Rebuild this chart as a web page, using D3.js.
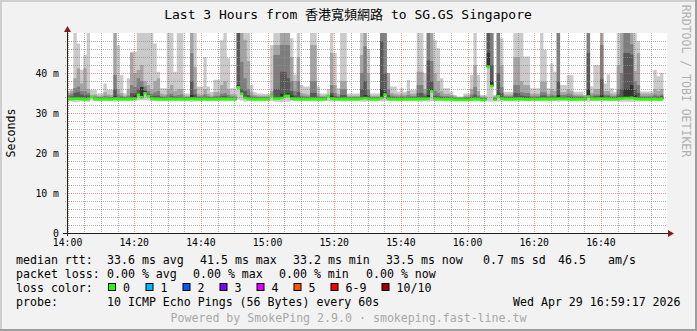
<!DOCTYPE html>
<html>
<head>
<meta charset="utf-8">
<script src="https://cdn.jsdelivr.net/npm/d3@7"></script>
<style>
  body { margin: 0; background: #f2f2f2; }
  svg { display: block; font-family: "DejaVu Sans Mono", monospace; }
</style>
</head>
<body>
<div id="chart"></div>
<script>
var svgWidth = 697;
var svgHeight = 331;
var plot = { left: 67, top: 33, width: 600, height: 200 };

// one sample per minute, 10 pings each (values in ms)
var firstSample = new Date(2026, 3, 29, 13, 59, 45);
var stepSeconds = 60;
var axisStart = new Date(2026, 3, 29, 13, 59, 50);
var axisEnd = new Date(2026, 3, 29, 16, 59, 50);

var pingMax = [35.5,36,55,47.4,40.8,44.5,55,35.8,35.8,34.9,
  34.9,37.4,35.8,35.8,55,47,39.5,34.9,38.7,45.3,
  45.3,55,55,55,55,55,47.4,40.3,36.2,36.2,
  55,55,40.3,55,55,34.9,34.9,55,55,36.6,
  36.6,44,36.6,35.3,38.3,38.3,48.2,55,43.7,36.2,
  36.2,55,55,55,55,37,35.2,34.9,34.9,34.8,
  34.8,47,55,55,55,55,55,48.7,39.6,55,
  37,36.6,36.6,55,55,36.6,34.9,34.9,36,55,
  45,36.2,55,55,34.9,34.9,34.9,34.9,55,55,
  46,34.9,34.9,34.9,55,55,36.6,36.6,36.6,35.3,
  36.2,35.3,38.25,35.75,35.75,55,55,39.9,55,55,
  48.2,46.2,38.7,36.2,36.2,35.3,34.5,34.1,34.1,34.9,
  34.9,39.5,55,39.5,34.5,34.5,55,55,34.5,55,
  48.6,35.3,35.3,35.3,55,55,55,44.1,44.1,36.2,
  36.2,36.2,55,45.75,36.2,42.4,40.3,55,37,37,
  39.5,39.5,35.3,35.3,35.3,34.5,55,36.6,42,42,
  55,37.4,39.6,36.2,35.3,55,55,55,55,55,
  55,48,35.4,35.4,35.4,35.4,40.8,39.2,40];

var ping9 = [35,35.5,38.7,41.2,37.4,41.2,36,34.5,34.6,34.3,
  34.3,35.2,34.6,34.5,55,36,35,34.3,36,45,
  40,40.75,42,38,37,36,38,38.7,34.8,34.6,
  36,37,35.5,36,36,34.3,34.3,55,41.5,34.8,
  34.6,36,34.8,34.4,35.2,35.2,37,38,36,34.7,
  34.6,55,55,48.3,43,35.2,34.5,34.4,34.3,34.3,
  34.3,35.5,47,47,55,55,55,44,38,44,
  35,34.8,34.6,47,47,34.8,34.3,34.3,34.6,45,
  37,34.8,38,38,34.3,34.3,34.3,34.3,44.5,55,
  40,34.3,34.3,34.3,55,55,40,35,34.8,34.6,
  34.8,34.6,35.5,34.8,34.8,40.3,40.3,36,55,55,
  40,38,35.5,34.8,34.8,34.5,34.2,34,34,34.3,
  34.3,36,42,35.5,34.2,34.2,55,55,34.2,55,
  42,34.6,34.6,34.6,44,44,38,37,37,34.8,
  34.8,34.8,37.8,37.8,34.8,36,35.5,55,35.2,35.2,
  36,35.5,34.6,34.6,34.6,34.3,55,35,36,36,
  55,35.5,35.5,34.8,34.6,42,55,55,55,55,
  40.5,45,34.8,34.8,34.8,34.8,36,35.5,36];

var ping8 = [34.5,34.8,36.2,36.6,35.5,35.5,35,34,34.1,34,
  34,34.3,34.1,34,39.5,34.6,34.3,34,34.4,37,
  36.5,38.7,38,36.6,35.5,34.8,35.2,35.5,34.2,34.1,
  34.6,34.8,34.3,34.5,34.6,34,34,45,36,34.2,
  34.1,34.6,34.2,34,34.3,34.3,34.8,35,34.5,34.1,
  34.1,55,42.8,38.7,36,34.4,34.1,34,34,34,
  34,34.6,44.5,44.5,47,47,47,38,35.5,38,
  34.3,34.2,34.1,38,38,34.2,34,34,34.2,37,
  35,34.2,36,36,34,34,34,34,40,46.7,
  36,34,34,34,55,55,36,34.4,34.2,34.1,
  34.2,34.1,34.5,34.2,34.2,37,37,34.8,55,43,
  35.5,35,34.4,34.2,34.2,34.1,33.9,33.8,33.8,34,
  34,34.6,36.5,34.4,33.9,33.9,55,50,33.9,55,
  36.5,34.2,34.2,34.2,37,37,35.2,35,35,34.2,
  34.2,34.2,35.2,35.2,34.2,34.6,34.4,55,34.5,34.5,
  34.8,34.6,34.2,34.2,34.2,34,55,34.4,34.6,34.6,
  47,34.6,34.6,34.2,34.2,36,40,55,55,47.2,
  38,37,34.2,34.2,34.2,34.2,34.6,34.4,34.6];

var ping7 = [34,34.2,35,35.2,34.6,34.5,34.4,33.8,33.8,33.8,
  33.8,33.9,33.8,33.8,36,34,33.9,33.8,33.9,35,
  35,36,36.5,35.6,34.8,34.2,34.3,34.4,33.9,33.8,
  34,34.2,33.9,34,34,33.8,33.8,38,34.6,33.9,
  33.8,34,33.9,33.8,33.9,33.9,34.2,34.3,34,33.8,
  33.8,55,36,35.5,34.5,33.9,33.8,33.8,33.8,33.8,
  33.8,34.1,36,36,40.3,40.3,38.7,35.5,34.4,35.2,
  33.9,33.8,33.8,35,35,33.9,33.8,33.8,33.9,35,
  34.2,33.9,34.5,34.5,33.8,33.8,33.8,33.8,36,38,
  34.5,33.8,33.8,33.8,48,40,34.5,33.9,33.9,33.8,
  33.9,33.8,34,33.9,33.9,35,35,34.2,43.1,38,
  34.4,34.2,34,33.9,33.9,33.8,33.7,33.6,33.6,33.7,
  33.7,34,34.6,33.9,33.7,33.7,55,42,33.7,40,
  35,33.9,33.9,33.9,35,35,34.4,34.2,34.2,33.9,
  33.9,33.9,34.4,34.4,33.9,34.1,34,38,34,34,
  34.2,34,33.9,33.9,33.9,33.8,45,34,34.2,34.2,
  38.5,34.1,34.1,33.9,33.9,34.6,36,45,45,44.6,
  36,35,33.9,33.9,33.9,33.9,34.1,34,34.2];

var ping6 = [33.7,33.7,34,34,33.8,33.8,33.8,33.6,33.6,33.6,
  33.6,33.7,33.6,33.6,34.2,33.7,33.6,33.6,33.7,33.8,
  34.5,34.6,36.5,35.5,34.4,33.8,33.8,33.8,33.7,33.6,
  33.7,33.7,33.6,33.7,33.7,33.6,33.6,34.5,33.8,33.6,
  33.6,33.7,33.6,33.6,33.6,33.6,33.7,33.8,33.7,33.6,
  33.6,37,35,34.2,33.8,33.6,33.6,33.6,33.6,33.6,
  33.6,34.3,34,34,34.8,34.5,35,34.4,33.8,33.8,
  33.6,33.6,33.6,33.8,33.8,33.6,33.6,33.6,34.3,34.4,
  33.8,33.6,33.8,33.8,33.6,33.6,33.6,33.6,34,34.5,
  33.8,33.6,33.6,33.6,36,35.2,33.8,33.6,33.6,33.6,
  33.6,33.6,33.7,33.6,33.6,33.8,33.8,33.7,34.5,36,
  33.8,33.7,33.6,33.6,33.6,33.6,33.5,33.5,33.5,33.5,
  33.5,33.6,33.8,33.6,33.5,33.5,45,38,33.5,34.8,
  34,33.6,33.6,33.6,33.8,33.8,33.7,33.6,33.6,33.6,
  33.6,33.6,33.7,33.7,33.6,33.7,33.7,34.5,33.7,33.7,
  33.7,33.6,33.6,33.6,33.6,33.6,36,33.7,33.7,33.7,
  34.5,33.7,33.7,33.6,33.6,33.8,34,36,36,37,
  34.5,34,33.6,33.6,33.6,33.6,33.7,33.6,33.7];

var medianRtt = [33.5,33.5,33.6,33.6,33.5,33.4,33.5,34.1,33.5,33.4,
  33.4,33.5,33.4,33.4,33.6,33.5,33.4,33.4,33.5,33.5,
  33.6,34.5,33.9,34.9,34.2,33.6,33.5,33.5,33.4,33.4,
  33.5,33.5,33.4,33.5,33.5,33.4,33.4,33.6,33.5,33.4,
  33.4,33.5,33.4,33.4,33.4,33.4,33.5,33.5,33.5,33.4,
  33.4,36.4,34.8,33.8,33.5,33.4,33.4,33.4,33.4,33.4,
  33.4,34.2,33.6,33.6,33.7,34.2,34.3,33.6,33.5,33.5,
  33.4,33.4,33.4,33.5,33.5,33.4,33.4,33.4,34.2,33.6,
  33.5,33.4,33.5,33.5,33.4,33.4,33.4,33.4,33.6,33.7,
  33.5,33.4,33.4,33.4,33.7,34.6,33.5,33.4,33.4,33.4,
  33.4,33.4,33.5,33.4,33.4,33.5,33.5,33.5,33.6,35.4,
  33.5,33.5,33.4,33.4,33.4,33.4,33.3,33.3,33.3,33.3,
  33.3,33.4,33.5,33.4,33.3,33.3,41.5,36.7,33.3,34.2,
  33.6,33.4,33.4,33.4,33.5,33.5,33.5,33.4,33.4,33.4,
  33.4,33.4,33.5,33.5,33.4,33.5,33.5,33.6,33.5,33.5,
  33.5,33.4,33.4,33.4,33.4,33.4,34.1,33.5,33.5,33.5,
  33.6,33.5,33.5,33.4,33.4,33.5,33.6,33.7,33.7,33.8,
  33.6,33.5,33.4,33.4,33.4,33.4,33.5,33.4,33.5];

var pingMin = [33,32.9,32.7,32.8,33,33,32.8,33.1,33,33.1,
  33.1,33,33.1,33.1,32.8,33,33.1,33.1,33,33,
  33,33.1,33.2,33.2,33.1,33,33,32.9,33.1,33.1,
  33,32.9,33.1,33,32.9,33.1,33.1,32.8,32.9,33.1,
  33.1,33,33.1,33.1,33.1,33.1,33,32.9,33,33.1,
  33.1,33.3,33.1,32.9,33,33.1,33.1,33.1,33.1,33.1,
  33.1,33,32.8,32.8,32.7,32.8,32.8,33,33,33,
  33.1,33.1,33.1,32.9,32.9,33.1,33.1,33.1,33,32.9,
  33,33.1,32.9,32.9,33.1,33.1,33.1,33.1,32.9,32.8,
  33,33.1,33.1,33.1,32.9,33,33,33.1,33.1,33.1,
  33.1,33.1,33,33.1,33.1,32.9,32.9,33,32.8,33,
  33,33,33.1,33.1,33.1,33.1,33.1,33.1,33.1,33.1,
  33.1,33,32.9,33,33.1,33.1,32.9,32.9,33.1,32.9,
  32.9,33.1,33.1,33.1,32.9,32.9,33,33,33,33.1,
  33.1,33.1,32.9,32.9,33.1,33,33,32.8,33.1,33.1,
  33,33,33.1,33.1,33.1,33.1,32.9,33,33,33,
  32.8,33,33,33.1,33.1,32.9,32.8,32.8,32.8,32.8,
  32.9,32.9,33.1,33.1,33.1,33.1,33,33,33];

var yTicks = [0, 10, 20, 30, 40];
var yTickLabels = ["0", "10 m", "20 m", "30 m", "40 m"];
var lossLabels = ["0", "1", "2", "3", "4", "5", "6-9", "10/10"];
var lossColors = ["#26ff00", "#00b8ff", "#0059ff", "#7e00ff", "#dd00ff", "#ff5500", "#ff0000", "#a00000"];
var smokeColors = ["#cacaca", "#a4a4a4", "#7e7e7e", "#585858", "#323232"];

var statsRow1 = [["median rtt:", 16], ["33.6 ms avg", 107], ["41.5 ms max", 200], ["33.2 ms min", 293],
  ["33.5 ms now", 386], ["0.7 ms sd", 483], ["46.5", 558], ["am/s", 608]];
var statsRow2 = [["packet loss:", 16], ["0.00 % avg", 107], ["0.00 % max", 193], ["0.00 % min", 279], ["0.00 % now", 366]];
var lossBoxX = [108, 145.5, 182.5, 219.5, 256.5, 293.5, 330.5, 381.5];

// build rows (one extra closing row so the last step has a width)
var rows = pingMax.map(function(v, i) {
  return {
    t: new Date(firstSample.getTime() + i * stepSeconds * 1000),
    max: v, p9: ping9[i], p8: ping8[i], p7: ping7[i], p6: ping6[i],
    med: medianRtt[i], min: pingMin[i]
  };
});
var last = rows[rows.length - 1];
rows.push(Object.assign({}, last, { t: new Date(last.t.getTime() + stepSeconds * 1000) }));

var svg = d3.select("#chart").append("svg")
  .attr("width", svgWidth)
  .attr("height", svgHeight);

svg.append("rect").attr("width", svgWidth).attr("height", svgHeight).attr("fill", "#f2f2f2");
// 3d border
svg.append("path").attr("d", "M0,0H697V2H2V331H0Z").attr("fill", "#cfcfcf");
svg.append("path").attr("d", "M697,0V331H0V329H695V0Z").attr("fill", "#9e9e9e");

var xScale = d3.scaleTime().domain([axisStart, axisEnd]).range([plot.left, plot.left + plot.width]);
var yScale = d3.scaleLinear().domain([0, 50]).range([plot.top + plot.height, plot.top]).clamp(true);

svg.append("rect")
  .attr("x", plot.left).attr("y", plot.top)
  .attr("width", plot.width).attr("height", plot.height)
  .attr("fill", "#ffffff");

svg.append("clipPath").attr("id", "clip")
  .append("rect").attr("x", plot.left).attr("y", plot.top - 1)
  .attr("width", plot.width).attr("height", plot.height + 1);

var dataG = svg.append("g").attr("clip-path", "url(#clip)");

// smoke bands, outermost first
var bands = [
  { top: "max", bot: "min" },
  { top: "p9", bot: "med" },
  { top: "p8", bot: "med" },
  { top: "p7", bot: "med" },
  { top: "p6", bot: "med" }
];
bands.forEach(function(b, k) {
  var area = d3.area()
    .curve(d3.curveStepAfter)
    .x(d => xScale(d.t))
    .y0(d => yScale(Math.min(d[b.bot], d[b.top])))
    .y1(d => yScale(d[b.top]));
  dataG.append("path").datum(rows)
    .attr("d", area)
    .attr("fill", smokeColors[k]);
});

// median, coloured by loss (all 0 here)
var medArea = d3.area()
  .curve(d3.curveStepAfter)
  .x(d => xScale(d.t))
  .y0(d => yScale(d.med) + 1.4)
  .y1(d => yScale(d.med) - 1.4);
dataG.append("path").datum(rows)
  .attr("d", medArea)
  .attr("fill", lossColors[0]);

// grid on top
var gridG = svg.append("g").attr("shape-rendering", "crispEdges");
var minorY = d3.range(2, 50, 2).filter(v => v % 10 !== 0);
gridG.selectAll(".hminor").data(minorY).enter().append("line")
  .attr("x1", plot.left - 2).attr("x2", plot.left + plot.width)
  .attr("y1", d => yScale(d) + 0.5).attr("y2", d => yScale(d) + 0.5)
  .attr("stroke", "rgba(143,143,143,0.75)").attr("stroke-dasharray", "1,1");
gridG.selectAll(".hmajor").data(yTicks.slice(1)).enter().append("line")
  .attr("x1", plot.left - 2).attr("x2", plot.left + plot.width)
  .attr("y1", d => yScale(d) + 0.5).attr("y2", d => yScale(d) + 0.5)
  .attr("stroke", "rgba(222,79,79,0.6)").attr("stroke-dasharray", "1,1");

var minorX = xScale.ticks(d3.timeMinute.every(5)).filter(t => t.getMinutes() % 20 !== 0);
var majorX = xScale.ticks(d3.timeMinute.every(20));
gridG.selectAll(".vminor").data(minorX).enter().append("line")
  .attr("x1", d => Math.round(xScale(d)) + 0.5).attr("x2", d => Math.round(xScale(d)) + 0.5)
  .attr("y1", plot.top).attr("y2", plot.top + plot.height + 2)
  .attr("stroke", "rgba(143,143,143,0.75)").attr("stroke-dasharray", "1,1");
gridG.selectAll(".vmajor").data(majorX).enter().append("line")
  .attr("x1", d => Math.round(xScale(d)) + 0.5).attr("x2", d => Math.round(xScale(d)) + 0.5)
  .attr("y1", plot.top).attr("y2", plot.top + plot.height + 2)
  .attr("stroke", "rgba(222,79,79,0.6)").attr("stroke-dasharray", "1,1");

// axes with arrows
var axisY0 = plot.top + plot.height + 0.5;
svg.append("line").attr("x1", plot.left - 4).attr("x2", plot.left + plot.width + 2)
  .attr("y1", axisY0).attr("y2", axisY0).attr("stroke", "#1f1f1f");
svg.append("line").attr("x1", plot.left + 0.5).attr("x2", plot.left + 0.5)
  .attr("y1", plot.top + plot.height + 3).attr("y2", plot.top - 2).attr("stroke", "#1f1f1f");
svg.append("path")
  .attr("d", `M${plot.left + plot.width + 1},${axisY0 - 3.5}L${plot.left + plot.width + 7},${axisY0}L${plot.left + plot.width + 1},${axisY0 + 3.5}Z`)
  .attr("fill", "#801f1f");
svg.append("path")
  .attr("d", `M${plot.left - 3},${plot.top - 1}L${plot.left + 0.5},${plot.top - 7}L${plot.left + 4},${plot.top - 1}Z`)
  .attr("fill", "#801f1f");

// axis labels
svg.selectAll(".ylab").data(yTicks).enter().append("text")
  .attr("x", 59).attr("y", d => yScale(d) + 3.5)
  .attr("text-anchor", "end").attr("font-size", "9.8px").attr("fill", "#000")
  .text((d, i) => yTickLabels[i]);
svg.selectAll(".xlab").data(majorX).enter().append("text")
  .attr("x", d => xScale(d)).attr("y", 246)
  .attr("text-anchor", "middle").attr("font-size", "9.8px").attr("fill", "#000")
  .text(d3.timeFormat("%H:%M"));

svg.append("text")
  .attr("transform", "translate(15, 133) rotate(-90)")
  .attr("text-anchor", "middle").attr("font-size", "11.6px")
  .text("Seconds");

svg.append("text")
  .attr("transform", "translate(682, 81) rotate(90)")
  .attr("text-anchor", "middle").attr("font-size", "11.5px").attr("fill", "#b0b0b0")
  .text("RRDTOOL / TOBI OETIKER");

svg.append("text")
  .attr("x", 348).attr("y", 19)
  .attr("text-anchor", "middle").attr("font-size", "13px")
  .attr("font-family", "'DejaVu Sans Mono', 'Noto Sans CJK TC', monospace")
  .text("Last 3 Hours from 香港寬頻網路 to SG.GS Singapore");

// legend
var legendG = svg.append("g").attr("font-size", "11.6px").attr("fill", "#000");
statsRow1.forEach(function(s) {
  legendG.append("text").attr("x", s[0] ? s[1] : 0).attr("y", 263.5).text(s[0]);
});
statsRow2.forEach(function(s) {
  legendG.append("text").attr("x", s[1]).attr("y", 277.5).text(s[0]);
});
legendG.append("text").attr("x", 16).attr("y", 291.5).text("loss color:");
lossLabels.forEach(function(lab, i) {
  legendG.append("rect")
    .attr("x", lossBoxX[i] + 0.5).attr("y", 283.5).attr("width", 7).attr("height", 7)
    .attr("fill", lossColors[i]).attr("stroke", "#000");
  legendG.append("text").attr("x", lossBoxX[i] + 15).attr("y", 291.5).text(lab);
});
legendG.append("text").attr("x", 16).attr("y", 305.5).text("probe:");
legendG.append("text").attr("x", 107).attr("y", 305.5).text("10 ICMP Echo Pings (56 Bytes) every 60s");
legendG.append("text").attr("x", 513).attr("y", 305.5).text("Wed Apr 29 16:59:17 2026");
legendG.append("text").attr("x", 348.5).attr("y", 322).attr("text-anchor", "middle").attr("fill", "#a8a8a8")
  .text("Powered by SmokePing 2.9.0 · smokeping.fast-line.tw");
</script>
</body>
</html>
